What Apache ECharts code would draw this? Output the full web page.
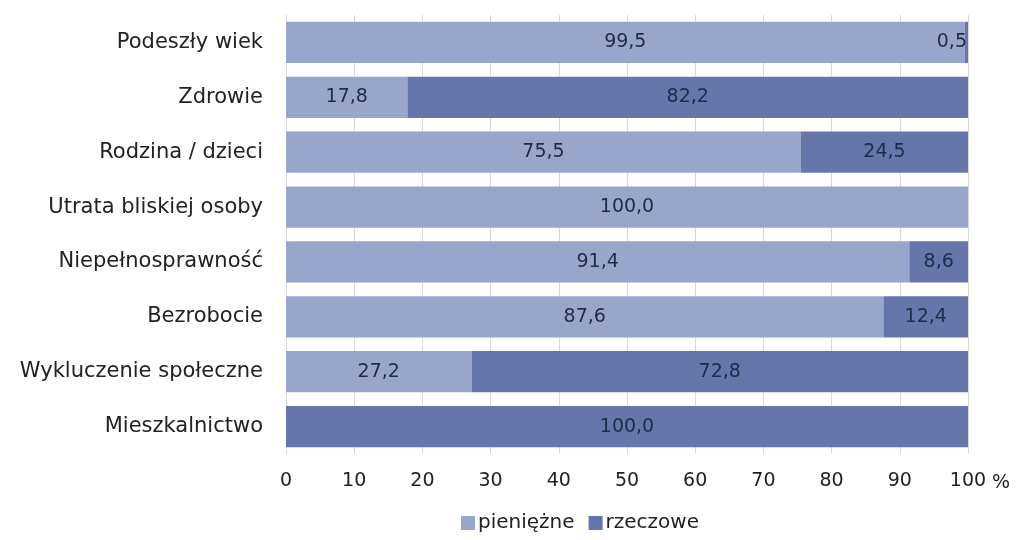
<!DOCTYPE html>
<html><head><meta charset="utf-8">
<script src="https://cdn.jsdelivr.net/npm/echarts@6/dist/echarts.min.js"></script>
<style>html,body{margin:0;padding:0;background:#fff}#c{width:1024px;height:540px}</style>
</head><body><div id="c"></div>
<script>
const categories = ["Podeszły wiek","Zdrowie","Rodzina / dzieci","Utrata bliskiej osoby","Niepełnosprawność","Bezrobocie","Wykluczenie społeczne","Mieszkalnictwo"];
const pieniezne = [99.5, 17.8, 75.5, 100.0, 91.4, 87.6, 27.2, 0];
const rzeczowe = [0.5, 82.2, 24.5, 0, 8.6, 12.4, 72.8, 100.0];
const seriesNames = ["pieniężne","rzeczowe"];
const xTicks = [0,10,20,30,40,50,60,70,80,90,100];

const font = "'DejaVu Sans', sans-serif";
function items(arr){
  return arr.map(v => {
    const o = {value: v};
    if (v > 0 && v < 3) o.label = {position: 'insideRight', distance: 1};
    return o;
  });
}
const lbl = {show:true, position:'inside', color:'#1e2b4a', fontSize:19, fontFamily:font,
  formatter: p => p.value > 0 ? p.value.toFixed(1).replace('.', ',') : ''};
const chart = echarts.init(document.getElementById('c'));
chart.setOption({
  animation:false,
  grid:{left:286, right:56, top:15, bottom:86, containLabel:false},
  legend:{bottom:2, left:456, itemWidth:14, itemHeight:14, itemGap:14, icon:'rect',
    textStyle:{fontSize:20, color:'#222', fontFamily:font, padding:[0,0,0,-2]}, data:seriesNames},
  xAxis:{type:'value', min:0, max:100, interval:10, name:'%', nameGap:14,
    nameTextStyle:{fontSize:19, color:'#222', fontFamily:font, verticalAlign:'top', padding:[20,0,0,0]},
    axisLine:{show:false}, axisTick:{show:false},
    axisLabel:{fontSize:19, color:'#222', fontFamily:font, margin:18, formatter: v => xTicks.includes(v) ? String(v) : ''},
    splitLine:{lineStyle:{color:'#d9d9d9'}}},
  yAxis:{type:'category', inverse:true, data:categories,
    axisLine:{show:true, lineStyle:{color:'#d9d9d9'}}, axisTick:{show:false},
    axisLabel:{fontSize:21, color:'#222', fontFamily:font, margin:23}},
  series:[
    {name:seriesNames[0], type:'bar', stack:'a', barCategoryGap:'25%', data:items(pieniezne),
     itemStyle:{color:'#9aa5cb'}, label:lbl},
    {name:seriesNames[1], type:'bar', stack:'a', barCategoryGap:'25%', data:items(rzeczowe),
     itemStyle:{color:'#6676aa'}, label:lbl}
  ]
});
</script></body></html>
